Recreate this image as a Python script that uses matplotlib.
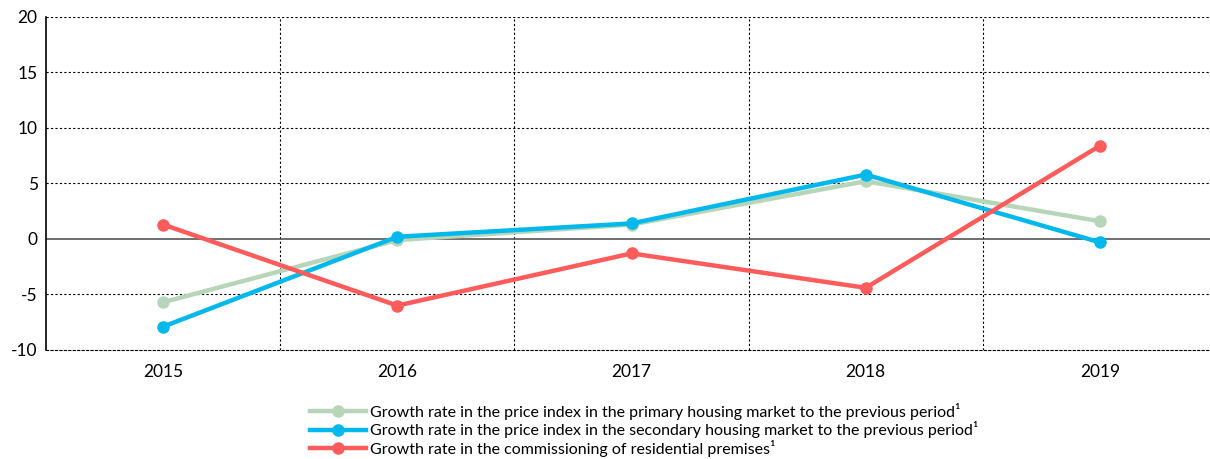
import numpy as np
import matplotlib.pyplot as plt

plt.rcParams['font.family'] = ['Lato', 'DejaVu Sans']
plt.rcParams['axes.unicode_minus'] = False

years = ['2015', '2016', '2017', '2018', '2019']
primary = [-5.7, -0.1, 1.3, 5.2, 1.6]
secondary = [-7.9, 0.2, 1.4, 5.8, -0.3]
commissioning = [1.3, -6.0, -1.3, -4.4, 8.4]

labels = [
    'Growth rate in the price index in the primary housing market to the previous period¹',
    'Growth rate in the price index in the secondary housing market to the previous period¹',
    'Growth rate in the commissioning of residential premises¹',
]
colors = ['#b7d6b9', '#00b8ec', '#ff5b5b']

fig = plt.figure(figsize=(12.1, 4.59), dpi=100)
ax = fig.add_axes([0.038, 0.2375, 0.962, 0.7255])

x = np.arange(len(years))
for vals, lab, c in zip([primary, secondary, commissioning], labels, colors):
    ax.plot(x, vals, color=c, lw=3.2, marker='o', ms=8, label=lab, zorder=3)

ax.set_xlim(-0.5, 4.47)
ax.set_ylim(-10, 20)
ax.set_yticks([-10, -5, 0, 5, 10, 15, 20])
ax.set_xticks(x)
ax.set_xticklabels(years)
ax.tick_params(length=0, labelsize=12.5, pad=10)
ax.tick_params(axis='y', pad=6)

dot = (0, (2, 2))
for yv in [-5, 5, 10, 15, 20]:
    ax.axhline(yv, color='black', lw=0.8, ls=dot, zorder=1)
for xv in [0.5, 1.5, 2.5, 3.5]:
    ax.axvline(xv, color='black', lw=0.8, ls=dot, zorder=1)
ax.axhline(0, color='#555555', lw=1.2, zorder=2)

ax.spines['left'].set_color('black')
ax.spines['left'].set_linewidth(1.2)
ax.spines['right'].set_visible(False)
ax.spines['top'].set_visible(False)
ax.spines['bottom'].set_linestyle(dot)
ax.spines['bottom'].set_linewidth(0.8)

fig.legend(loc='upper center', bbox_to_anchor=(0.532, 0.14), frameon=False,
           fontsize=11.5, handlelength=3.5, handletextpad=0.25, labelspacing=0.1,
           borderpad=0)

fig.savefig('out.png', dpi=100)
